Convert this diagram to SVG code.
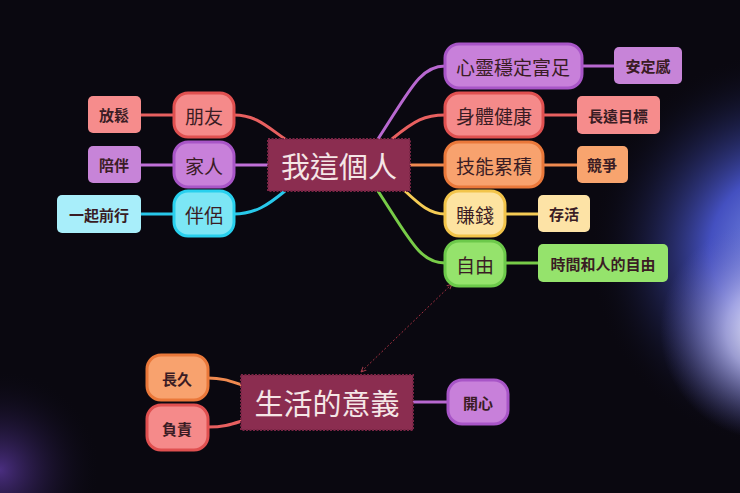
<svg xmlns="http://www.w3.org/2000/svg" width="740" height="493" viewBox="0 0 740 493">
<defs>
<radialGradient id="glow1" cx="790" cy="250" r="200" gradientUnits="userSpaceOnUse"><stop offset="0" stop-color="#8a9ef0"/><stop offset="0.4" stop-color="#4450c0"/><stop offset="1" stop-color="#0a0a14" stop-opacity="0"/></radialGradient>
<radialGradient id="glow2" cx="770" cy="330" r="110" gradientUnits="userSpaceOnUse"><stop offset="0" stop-color="#ffffff"/><stop offset="0.4" stop-color="#b8b8ec" stop-opacity="0.8"/><stop offset="1" stop-color="#6060c0" stop-opacity="0"/></radialGradient>
<radialGradient id="glow3" cx="0" cy="470" r="100" gradientUnits="userSpaceOnUse"><stop offset="0" stop-color="#4a2e80"/><stop offset="1" stop-color="#0a0a14" stop-opacity="0"/></radialGradient>
<marker id="ah" viewBox="0 0 10 10" refX="9" refY="5" markerWidth="6" markerHeight="6" orient="auto-start-reverse"><path d="M0,1 L9,5 L0,9" fill="none" stroke="#b04050" stroke-width="1.5"/></marker>
</defs>
<style>
text{font-family:"Noto Sans CJK TC","Noto Sans CJK SC",sans-serif;text-anchor:middle;dominant-baseline:central}
.m{font-size:19px;fill:#3a1c24}
.s{font-size:15px;font-weight:bold;fill:#3a1c24}
.c{font-size:29px;fill:#f5e6e6}
.cb{fill:#8b2d50;stroke:#7a2545;stroke-width:2;stroke-dasharray:2 1.5}
.l{fill:none;stroke-width:3}
</style>
<rect width="740" height="493" fill="#0a0810"/>
<rect width="740" height="493" fill="url(#glow1)"/>
<rect width="740" height="493" fill="url(#glow2)"/>
<rect width="740" height="493" fill="url(#glow3)"/>
<g id="connectors">
<path class="l" stroke="#b868d0" d="M378,139 C410,90 420,66 445,66"/>
<path class="l" stroke="#e86060" d="M392,139 C415,120 425,115 445,115"/>
<path class="l" stroke="#f08a50" d="M410,165 L445,165"/>
<path class="l" stroke="#f5cc55" d="M405,191 C420,205 430,214 445,214"/>
<path class="l" stroke="#78cc48" d="M378,191 C410,240 420,263 445,263"/>
<path class="l" stroke="#b868d0" d="M582,66 L614,66"/>
<path class="l" stroke="#e86060" d="M543,115 L577,115"/>
<path class="l" stroke="#f08a50" d="M543,165 L577,165"/>
<path class="l" stroke="#f5cc55" d="M505,214 L538,214"/>
<path class="l" stroke="#78cc48" d="M505,263 L538,263"/>
<path class="l" stroke="#e86060" d="M234,115 C255,115 265,125 285,139"/>
<path class="l" stroke="#c070d8" d="M234,165 L268,165"/>
<path class="l" stroke="#28c8ea" d="M234,214 C255,214 268,205 285,191"/>
<path class="l" stroke="#e86060" d="M141,115 L174,115"/>
<path class="l" stroke="#c070d8" d="M141,165 L174,165"/>
<path class="l" stroke="#28c8ea" d="M141,214 L174,214"/>
<path class="l" stroke="#f08a50" d="M208,378 C225,378 232,382 245,386"/>
<path class="l" stroke="#e86060" d="M208,427 C225,427 232,424 245,420"/>
<path class="l" stroke="#b868d0" d="M413,402 L448,402"/>
<path d="M452,284 L361,372" fill="none" stroke="#a03040" stroke-width="1" stroke-dasharray="2 2" marker-start="url(#ah)" marker-end="url(#ah)"/>
</g>
<g id="center1"><rect class="cb" x="268" y="139" width="142" height="52"/><text class="c" x="339" y="165">我這個人</text></g>
<g id="center2"><rect class="cb" x="241" y="375" width="172" height="55"/><text class="c" x="327" y="402">生活的意義</text></g>
<g id="n1"><rect x="445" y="44" width="137" height="44" rx="14" fill="#c880da" stroke="#a855c7" stroke-width="3"/><text class="m" x="513" y="66">心靈穩定富足</text></g>
<g id="n1a"><rect x="614" y="47" width="68" height="37" rx="5" fill="#c784d8"/><text class="s" x="648" y="65">安定感</text></g>
<g id="n2"><rect x="445" y="93" width="98" height="44" rx="14" fill="#f58a8a" stroke="#e05050" stroke-width="3"/><text class="m" x="494" y="115">身體健康</text></g>
<g id="n2a"><rect x="577" y="96" width="83" height="38" rx="5" fill="#f68c8c"/><text class="s" x="618" y="115">長遠目標</text></g>
<g id="n3"><rect x="445" y="142" width="98" height="45" rx="14" fill="#f8a26e" stroke="#ea783a" stroke-width="3"/><text class="m" x="494" y="165">技能累積</text></g>
<g id="n3a"><rect x="577" y="146" width="51" height="37" rx="5" fill="#f8a46e"/><text class="s" x="602" y="164">競爭</text></g>
<g id="n4"><rect x="445" y="191" width="60" height="45" rx="14" fill="#fde3a0" stroke="#f2c44a" stroke-width="3"/><text class="m" x="475" y="214">賺錢</text></g>
<g id="n4a"><rect x="538" y="195" width="52" height="37" rx="5" fill="#fde3a6"/><text class="s" x="564" y="213">存活</text></g>
<g id="n5"><rect x="445" y="241" width="60" height="45" rx="14" fill="#95e36c" stroke="#6cc94a" stroke-width="3"/><text class="m" x="475" y="264">自由</text></g>
<g id="n5a"><rect x="538" y="244" width="130" height="38" rx="5" fill="#95e36c"/><text class="s" x="603" y="263">時間和人的自由</text></g>
<g id="l1"><rect x="174" y="93" width="60" height="44" rx="14" fill="#f58a8a" stroke="#e05050" stroke-width="3"/><text class="m" x="204" y="115">朋友</text></g>
<g id="l1a"><rect x="88" y="96" width="53" height="37" rx="5" fill="#f68c8c"/><text class="s" x="114" y="114">放鬆</text></g>
<g id="l2"><rect x="174" y="142" width="60" height="45" rx="14" fill="#c880da" stroke="#a855c7" stroke-width="3"/><text class="m" x="204" y="165">家人</text></g>
<g id="l2a"><rect x="88" y="146" width="53" height="37" rx="5" fill="#c784d8"/><text class="s" x="114" y="164">陪伴</text></g>
<g id="l3"><rect x="174" y="191" width="60" height="45" rx="14" fill="#7ce6f5" stroke="#28d0ee" stroke-width="3"/><text class="m" x="204" y="214">伴侶</text></g>
<g id="l3a"><rect x="57" y="195" width="84" height="38" rx="5" fill="#a8eefa"/><text class="s" x="99" y="214">一起前行</text></g>
<g id="b1"><rect x="147" y="355" width="61" height="45" rx="14" fill="#f8a26e" stroke="#ea783a" stroke-width="3"/><text class="s" x="177" y="378">長久</text></g>
<g id="b2"><rect x="147" y="405" width="61" height="45" rx="14" fill="#f58a8a" stroke="#e05050" stroke-width="3"/><text class="s" x="177" y="428">負責</text></g>
<g id="b3"><rect x="448" y="380" width="60" height="44" rx="14" fill="#c880da" stroke="#a855c7" stroke-width="3"/><text class="s" x="478" y="402">開心</text></g>
</svg>
